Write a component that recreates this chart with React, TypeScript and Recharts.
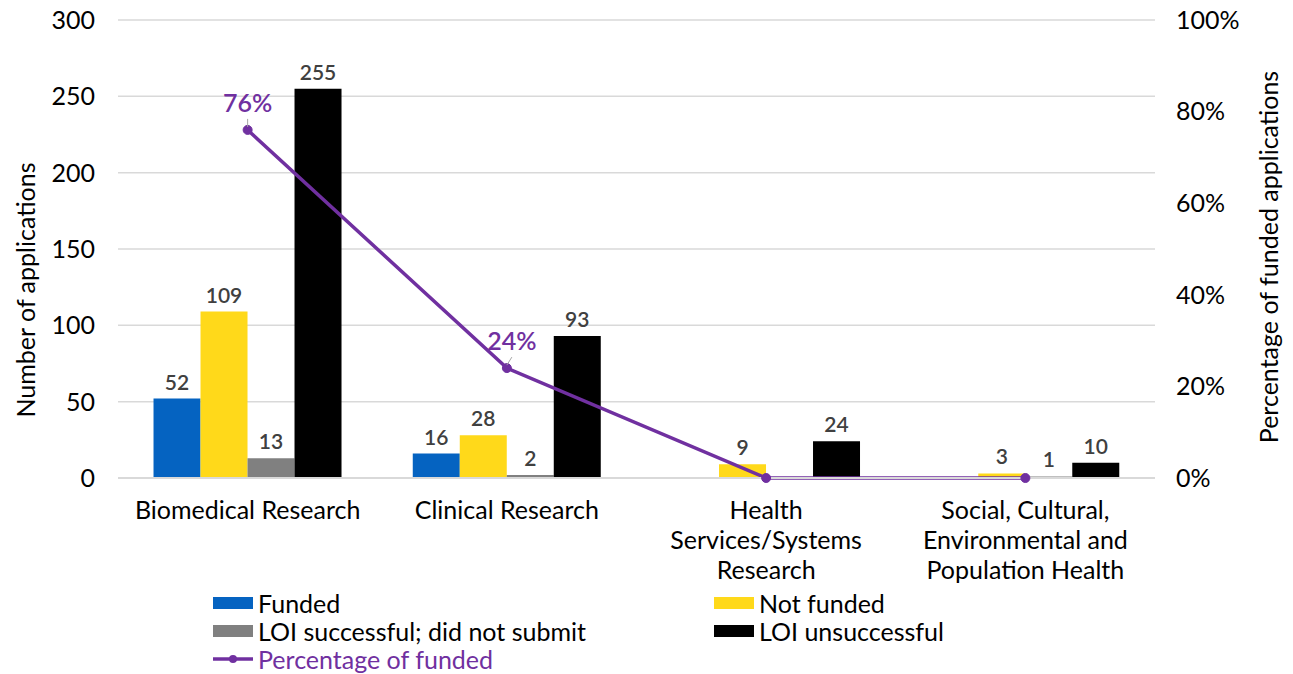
import {
  Bar,
  CartesianGrid,
  ComposedChart,
  LabelList,
  Line,
  XAxis,
  YAxis,
} from "recharts";

const categories = [
  "Biomedical Research",
  "Clinical Research",
  "Health Services/Systems Research",
  "Social, Cultural, Environmental and Population Health",
];
const tickLines = [
  ["Biomedical Research"],
  ["Clinical Research"],
  ["Health", "Services/Systems", "Research"],
  ["Social, Cultural,", "Environmental and", "Population Health"],
];
const funded = [52, 16, 0, 0];
const notFunded = [109, 28, 9, 3];
const loiSuccessful = [13, 2, 0, 1];
const loiUnsuccessful = [255, 93, 24, 10];
const pctFunded = [0.76, 0.24, 0, 0];
const leftTicks = [0, 50, 100, 150, 200, 250, 300];
const rightTicks = [0, 0.2, 0.4, 0.6, 0.8, 1];

const FONT = "Lato, 'Open Sans', sans-serif";
const FS = 25;
const BLUE = "#0563C1";
const YELLOW = "#FFD91A";
const GRAY = "#808080";
const BLACK = "#000000";
const PURPLE = "#7030A0";

const data = categories.map((name, i) => ({
  name,
  funded: funded[i],
  notFunded: notFunded[i],
  loiSuccessful: loiSuccessful[i],
  loiUnsuccessful: loiUnsuccessful[i],
  pct: pctFunded[i],
}));

const hideZero = (v: any) => (v === 0 ? "" : v);

function CategoryTick(props: any) {
  const { x, y, payload } = props;
  const lines = tickLines[payload.index] ?? [payload.value];
  return (
    <text x={x} y={y} textAnchor="middle" fill="#000" fontSize={FS} fontFamily={FONT}>
      {lines.map((l: string, i: number) => (
        <tspan key={i} x={x} y={y + 33 + i * 30}>
          {l}
        </tspan>
      ))}
    </text>
  );
}

function PctLabel(props: any) {
  const { x, y, value } = props;
  if (!value) return null;
  const dx = value < 0.5 ? 5 : 0;
  return (
    <g>
      <line x1={x} y1={y - 3} x2={x + dx} y2={y - 11} stroke="#a6a6a6" strokeWidth={1} />
      <text x={x + dx} y={y - 18} textAnchor="middle" fill={PURPLE} fontSize={25} fontWeight={600} fontFamily={FONT}>
        {Math.round(value * 100)}%
      </text>
    </g>
  );
}

function Legend() {
  const item = (label: string, color: string, left: number, top: number, line = false) => (
    <div style={{ position: "absolute", left, top, display: "flex", alignItems: "center", height: 28 }}>
      {line ? (
        <svg width={42} height={12}>
          <line x1={0} y1={6} x2={40} y2={6} stroke={color} strokeWidth={3.5} />
          <circle cx={20} cy={6} r={4} fill={color} />
        </svg>
      ) : (
        <div style={{ width: 40, height: 12, background: color, marginRight: 2 }} />
      )}
      <span style={{ fontSize: FS, fontFamily: FONT, color: line ? PURPLE : "#000", marginLeft: 3 }}>{label}</span>
    </div>
  );
  return (
    <>
      {item("Funded", BLUE, 213, 589)}
      {item("Not funded", YELLOW, 714, 589)}
      {item("LOI successful; did not submit", GRAY, 213, 617)}
      {item("LOI unsuccessful", BLACK, 714, 617)}
      {item("Percentage of funded", PURPLE, 213, 645, true)}
    </>
  );
}

const barLabel = {
  position: "top" as const,
  offset: 9,
  formatter: hideZero,
  fill: "#404040",
  fontSize: 21,
  fontWeight: 600,
  fontFamily: FONT,
};

export default function App() {
  return (
    <div style={{ position: "fixed", left: 0, top: 0, width: 1293, height: 674, background: "#fff" }}>
      <ComposedChart
        width={1293}
        height={674}
        data={data}
        margin={{ top: 20, right: 0, bottom: 86, left: 0 }}
        barCategoryGap="13.7%"
        barGap={0}
      >
        <CartesianGrid yAxisId="left" vertical={false} stroke="#d9d9d9" strokeWidth={1.5} />
        <XAxis
          dataKey="name"
          height={110}
          interval={0}
          tickLine={false}
          axisLine={{ stroke: "#d9d9d9", strokeWidth: 2 }}
          tick={<CategoryTick />}
        />
        <YAxis
          yAxisId="left"
          width={118}
          domain={[0, 300]}
          ticks={leftTicks}
          axisLine={false}
          tickLine={false}
          tickMargin={17}
          tick={{ fill: "#000", fontSize: FS, fontFamily: FONT }}
          label={{
            content: () => (
              <text
                x={25}
                y={290}
                transform="rotate(-90, 25, 290)"
                textAnchor="middle"
                dominantBaseline="central"
                fill="#000"
                fontSize={FS}
                fontFamily={FONT}
              >
                Number of applications
              </text>
            ),
          }}
        />
        <YAxis
          yAxisId="right"
          orientation="right"
          width={138}
          domain={[0, 1]}
          ticks={rightTicks}
          axisLine={false}
          tickLine={false}
          tickMargin={15}
          tickFormatter={(v: number) => `${Math.round(v * 100)}%`}
          tick={{ fill: "#000", fontSize: FS, fontFamily: FONT }}
          label={{
            content: () => (
              <text
                x={1268}
                y={257}
                transform="rotate(-90, 1268, 257)"
                textAnchor="middle"
                dominantBaseline="central"
                fill="#000"
                fontSize={FS}
                fontFamily={FONT}
              >
                Percentage of funded applications
              </text>
            ),
          }}
        />
        <Bar yAxisId="left" dataKey="funded" fill={BLUE} isAnimationActive={false}>
          <LabelList dataKey="funded" {...barLabel} />
        </Bar>
        <Bar yAxisId="left" dataKey="notFunded" fill={YELLOW} isAnimationActive={false}>
          <LabelList dataKey="notFunded" {...barLabel} />
        </Bar>
        <Bar yAxisId="left" dataKey="loiSuccessful" fill={GRAY} isAnimationActive={false}>
          <LabelList dataKey="loiSuccessful" {...barLabel} />
        </Bar>
        <Bar yAxisId="left" dataKey="loiUnsuccessful" fill={BLACK} isAnimationActive={false}>
          <LabelList dataKey="loiUnsuccessful" {...barLabel} />
        </Bar>
        <Line
          yAxisId="right"
          dataKey="pct"
          stroke={PURPLE}
          strokeWidth={3.5}
          dot={{ r: 4.5, fill: PURPLE, stroke: PURPLE, strokeWidth: 1 }}
          isAnimationActive={false}
        >
          <LabelList dataKey="pct" content={<PctLabel />} />
        </Line>
      </ComposedChart>
      <Legend />
    </div>
  );
}
